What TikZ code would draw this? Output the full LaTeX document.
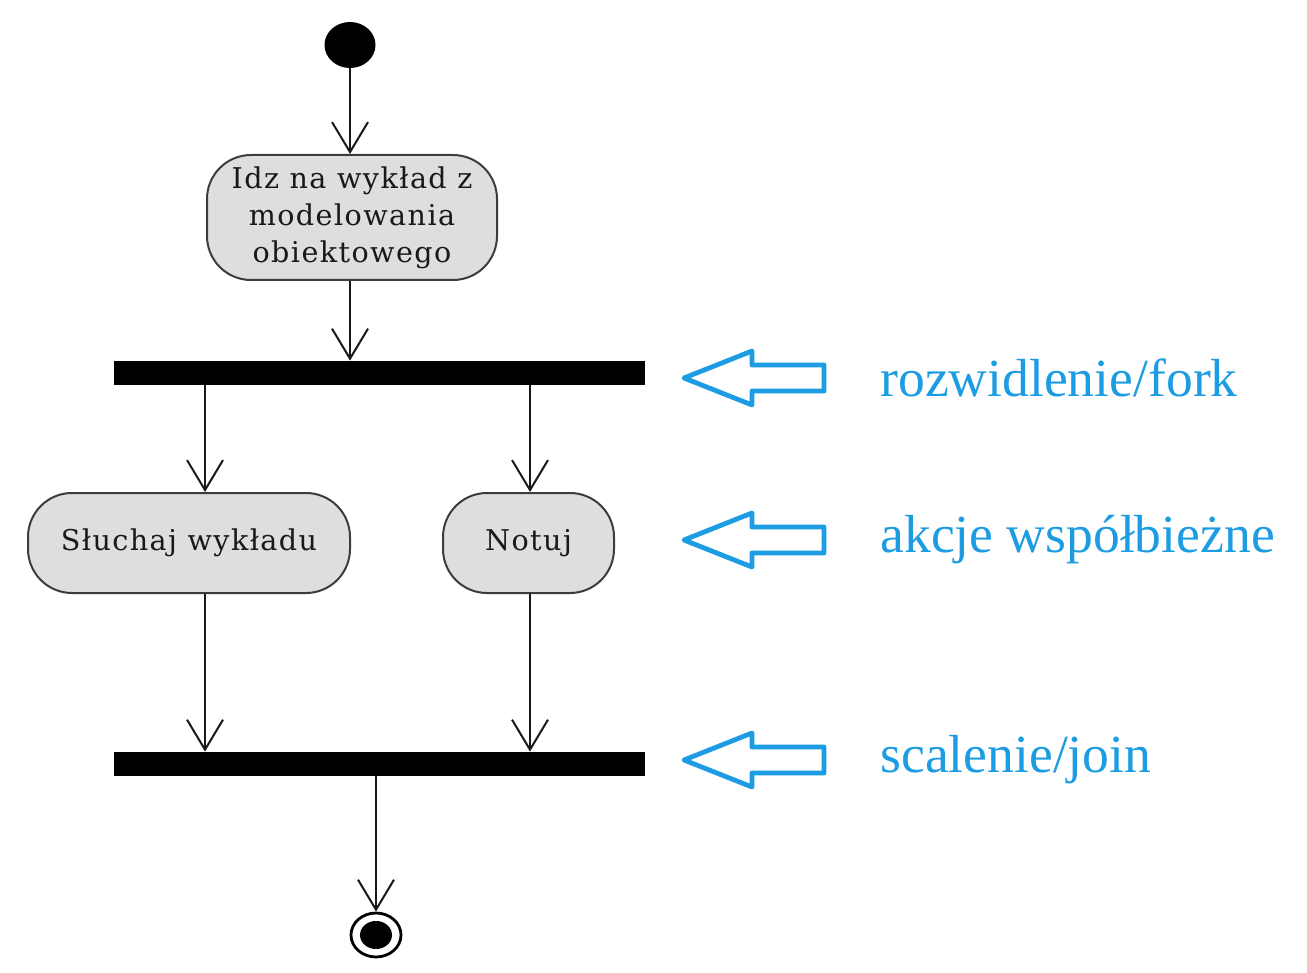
\documentclass[tikz,border=0pt]{standalone}
\usepackage{fontspec}
\setmainfont{Liberation Serif}
\newfontfamily\boxfont[LetterSpace=5]{DejaVu Serif}
\usetikzlibrary{arrows.meta,shapes.geometric}
\definecolor{noteblue}{RGB}{28,156,226}
\definecolor{boxfill}{RGB}{222,222,222}
\definecolor{boxline}{RGB}{60,60,60}
\tikzset{
  action/.style={draw=boxline, line width=1pt, fill=boxfill, rounded corners=22pt,
    font=\boxfont\fontsize{14.3pt}{18.5pt}\selectfont, text=black!90, align=center, inner sep=0pt},
  bar/.style={fill=black, draw=none, minimum width=265.5pt, minimum height=12pt, inner sep=0pt},
  flow/.style={draw=black!90, line width=1pt, -{Straight Barb[length=15pt,width=18pt,line width=1pt]}},
  hollow/.style={draw=noteblue, line width=2.4pt, line join=round},
  note/.style={text=noteblue, font=\fontsize{26.8pt}{30pt}\selectfont, anchor=west, inner sep=0pt}
}
\begin{document}
\begin{tikzpicture}[x=0.5pt,y=-0.5pt]
\useasboundingbox (0,0) rectangle (1307,973);
% start
\node[ellipse, fill=black, minimum width=25.5pt, minimum height=23pt, inner sep=0pt] (start) at (350,45) {};
% action 1
\node[action, minimum width=145pt, minimum height=62.5pt] (a1) at (352,217.5) {Idz na wykład z\\modelowania\\obiektowego};
% fork
\node[bar] (fork) at (379.5,373) {};
% actions
\node[action, minimum width=161pt, minimum height=50pt] (sl) at (189,543) {Słuchaj wykładu};
\node[action, minimum width=85.5pt, minimum height=50pt] (no) at (528.5,543) {Notuj};
% join
\node[bar] (join) at (379.5,764) {};
% end
\node[ellipse, draw=black, line width=1.4pt, minimum width=25pt, minimum height=22pt, inner sep=0pt] (end) at (376,935) {};
\fill[black] (end.center) ellipse [x radius=16, y radius=14];
% helper columns
\coordinate (cL) at (205,0);
\coordinate (cR) at (530,0);
% connectors
\draw[flow] (start) -- (a1.north -| start);
\draw[flow] (a1.south -| start) -- (fork.north -| start);
\draw[flow] (fork.south -| cL) -- (sl.north -| cL);
\draw[flow] (fork.south -| cR) -- (no.north -| cR);
\draw[flow] (sl.south -| cL) -- (join.north -| cL);
\draw[flow] (no.south -| cR) -- (join.north -| cR);
\draw[flow] (join.south -| end) -- (end.north);
% hollow arrows and notes
\foreach \y/\t/\n in {378/rozwidlenie\slash fork/n1, 540/akcje współbieżne/n2, 760/scalenie\slash join/n3}{
  \draw[hollow] (684,\y) -- (752,\y-27) -- (752,\y-13) -- (824,\y-13) -- (824,\y+13) -- (752,\y+13) -- (752,\y+27) -- cycle;
  \node[note] (\n) at (880,\y) {\t};
}
\end{tikzpicture}
\end{document}
